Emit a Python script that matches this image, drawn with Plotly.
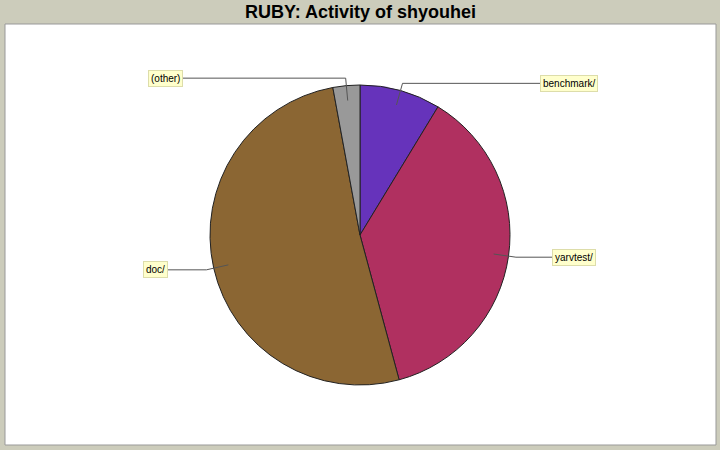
'''
pie of directory activity, jpgraph style, with boxed guide labels.
'''

import math
import plotly.graph_objects as go


W, H = 720, 450

# data
labels = ['benchmark/', 'yarvtest/', 'doc/', '(other)']
values = [8.7, 37.1, 51.3, 2.9]
colors = ['#6633BB', '#B03060', '#8B6633', '#999999']

# layout constants (pixels)
CX, CY, R = 360, 235, 150
label_x = [540, 552, 168, 183]


def px(x):
    return x / W


def py(y):
    return 1 - y / H


data = go.Pie(
    values=values,
    labels=labels,
    marker=dict(colors=colors, line=dict(color='#222222', width=1)),
    sort=False,
    direction='clockwise',
    rotation=0,
    textinfo='none',
    hoverinfo='skip',
    showlegend=False,
    domain=dict(x=[px(CX - R), px(CX + R)], y=[py(CY + R), py(CY - R)]),
)

shapes = [dict(
    type='rect', xref='paper', yref='paper',
    x0=px(5), x1=px(716), y0=py(445), y1=py(24),
    fillcolor='white', line=dict(color='#999999', width=1), layer='below',
)]

annotations = [dict(
    text='<b>RUBY: Activity of shyouhei</b>',
    xref='paper', yref='paper', x=0.5, y=py(12),
    xanchor='center', yanchor='middle', showarrow=False,
    font=dict(family='Liberation Sans', size=18, color='black'),
)]

total = sum(values)
start = 0.0
for lab, val, lx in zip(labels, values, label_x):
    mid = math.radians((start + val / 2) / total * 360)
    start += val
    x1 = CX + 0.9 * R * math.sin(mid)
    y1 = CY - 0.9 * R * math.cos(mid)
    x2 = CX + 1.05 * R * math.sin(mid)
    y2 = CY - 1.05 * R * math.cos(mid)
    shapes.append(dict(
        type='path', xref='paper', yref='paper',
        path='M {} {} L {} {} L {} {}'.format(px(x1), py(y1), px(x2), py(y2), px(lx), py(y2)),
        line=dict(color='#555555', width=1),
    ))
    right = lx > CX
    annotations.append(dict(
        text=lab, xref='paper', yref='paper', x=px(lx), y=py(y2),
        xanchor='left' if right else 'right', yanchor='middle', showarrow=False,
        font=dict(family='Liberation Sans', size=10, color='black'),
        bgcolor='#FFFFCC', bordercolor='#DDDDAA', borderwidth=1, borderpad=2,
    ))

layout = go.Layout(
    width=W,
    height=H,
    margin=dict(l=0, r=0, t=0, b=0),
    paper_bgcolor='#CCCCBB',
    plot_bgcolor='#CCCCBB',
    shapes=shapes,
    annotations=annotations,
)

fig = go.Figure(data=data, layout=layout)
fig.write_html('out.html', config={'displayModeBar': False},
               post_script="document.body.style.margin='0';")
